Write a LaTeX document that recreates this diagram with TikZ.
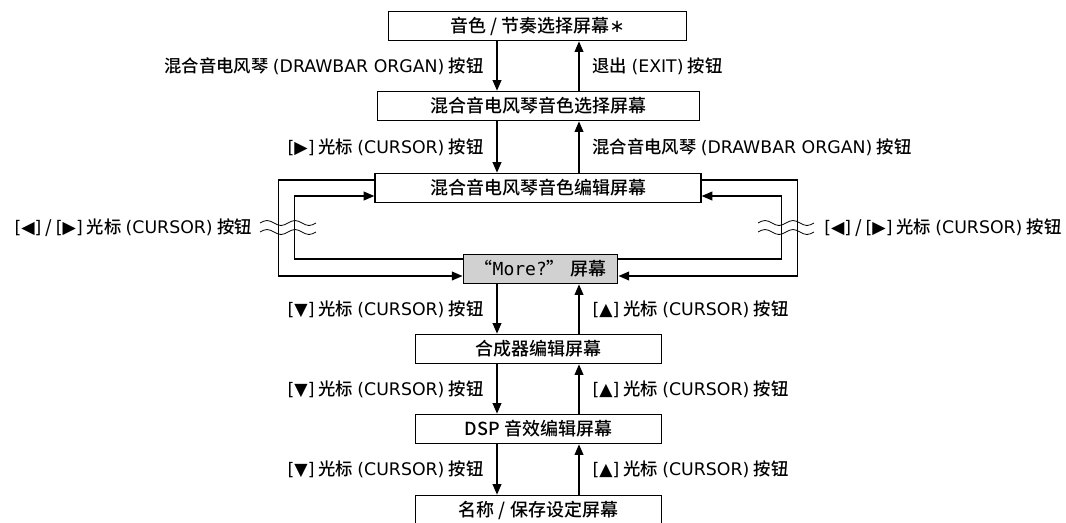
\documentclass[tikz,border=0pt]{standalone}
\usepackage{fontspec}
\setmainfont{Noto Sans CJK SC Medium}
\newfontfamily\monofont{DejaVu Sans Mono}
\newfontfamily\latfont{DejaVu Sans}
\usetikzlibrary{arrows.meta,calc}

% Latin part of a button name, with its brackets
\newcommand\keyname[1]{{\latfont\kern0.25em(#1)\kern0.25em}}
\newcommand\keytri[1]{{\latfont[#1]}}

\tikzset{
  screen/.style={draw, line width=0.9pt, minimum height=22pt, inner sep=0pt,
    font=\fontsize{13.5}{16}\selectfont},
  link/.style={line width=1.3pt, -{Triangle[length=8pt,width=6.5pt]}},
  lbl/.style={font=\fontsize{13}{15}\selectfont, inner sep=0pt},
  wave/.style={line width=0.6pt},
}

\begin{document}
\begin{tikzpicture}[x=0.75pt,y=0.75pt,yscale=-1,xscale=1]
\useasboundingbox (0,0) rectangle (1066,522);

% screens
\node[screen, minimum width=223pt] (sel) at (537.5,26) {音色 / 节奏选择屏幕{\latfont ∗}};
\node[screen, minimum width=242pt] (orgsel) at (538.5,106) {混合音电风琴音色选择屏幕};
\node[screen, minimum width=244.5pt] (orgedit) at (538,188) {混合音电风琴音色编辑屏幕};
\node[screen, minimum width=116pt, fill=black!18] (more) at (540.5,269) {“{\monofont More?}” 屏幕};
\node[screen, minimum width=185pt] (synth) at (538.5,349) {合成器编辑屏幕};
\node[screen, minimum width=185pt] (dsp) at (538.5,429) {DSP 音效编辑屏幕};
\node[screen, minimum width=185pt] (name) at (538.5,510) {名称 / 保存设定屏幕};

% columns of the up and down arrows
\coordinate (dn) at (497,0);
\coordinate (up) at (579,0);

% down / up
\draw[link] (sel.south -| dn) -- (orgsel.north -| dn)
  node[midway, left=9.5pt, lbl] (l1) {混合音电风琴\keyname{DRAWBAR ORGAN}按钮};
\draw[link] (orgsel.north -| up) -- (sel.south -| up)
  node[midway, right=9.5pt, lbl] (r1) {退出\keyname{EXIT}按钮};
\draw[link] (orgsel.south -| dn) -- (orgedit.north -| dn)
  node[midway, left=9.5pt, lbl] (l2) {\keytri{▶} 光标\keyname{CURSOR}按钮};
\draw[link] (orgedit.north -| up) -- (orgsel.south -| up)
  node[midway, right=9.5pt, lbl] (r2) {混合音电风琴\keyname{DRAWBAR ORGAN}按钮};
\draw[link] (more.south -| dn) -- (synth.north -| dn)
  node[midway, left=9.5pt, lbl] (l3) {\keytri{▼} 光标\keyname{CURSOR}按钮};
\draw[link] (synth.north -| up) -- (more.south -| up)
  node[midway, right=9.5pt, lbl] (r3) {\keytri{▲} 光标\keyname{CURSOR}按钮};
\draw[link] (synth.south -| dn) -- (dsp.north -| dn)
  node[midway, left=9.5pt, lbl] (l4) {\keytri{▼} 光标\keyname{CURSOR}按钮};
\draw[link] (dsp.north -| up) -- (synth.south -| up)
  node[midway, right=9.5pt, lbl] (r4) {\keytri{▲} 光标\keyname{CURSOR}按钮};
\draw[link] (dsp.south -| dn) -- (name.north -| dn)
  node[midway, left=9.5pt, lbl] (l5) {\keytri{▼} 光标\keyname{CURSOR}按钮};
\draw[link] (name.north -| up) -- (dsp.south -| up)
  node[midway, right=9.5pt, lbl] (r5) {\keytri{▲} 光标\keyname{CURSOR}按钮};

% loops between edit screen and "More?"
\draw[link] ($(orgedit.west)+(0,-8)$) -- ++(-96,0) |- ($(more.west)+(0,7)$);
\draw[link] ($(more.west)+(0,-10)$) -- ++(-168,0) |- ($(orgedit.west)+(0,8)$);
\draw[link] ($(orgedit.east)+(0,-8)$) -- ++(96,0) |- ($(more.east)+(0,7)$);
\draw[link] ($(more.east)+(0,-10)$) -- ++(163,0) |- ($(orgedit.east)+(0,8)$);

% break marks
\foreach \wx in {260,758}
  \foreach \wy in {223,232}
    \draw[wave] (\wx,\wy) sin ++(7,-2.5) cos ++(7,2.5) sin ++(7,2.5) cos ++(7,-2.5)
      sin ++(7,-2.5) cos ++(7,2.5) sin ++(7,2.5) cos ++(7,-2.5);

\node[lbl, anchor=east] (lside) at (252,228) {\keytri{◀} / \keytri{▶} 光标\keyname{CURSOR}按钮};
\node[lbl, anchor=west] (rside) at (824,228) {\keytri{◀} / \keytri{▶} 光标\keyname{CURSOR}按钮};

\end{tikzpicture}
\end{document}
